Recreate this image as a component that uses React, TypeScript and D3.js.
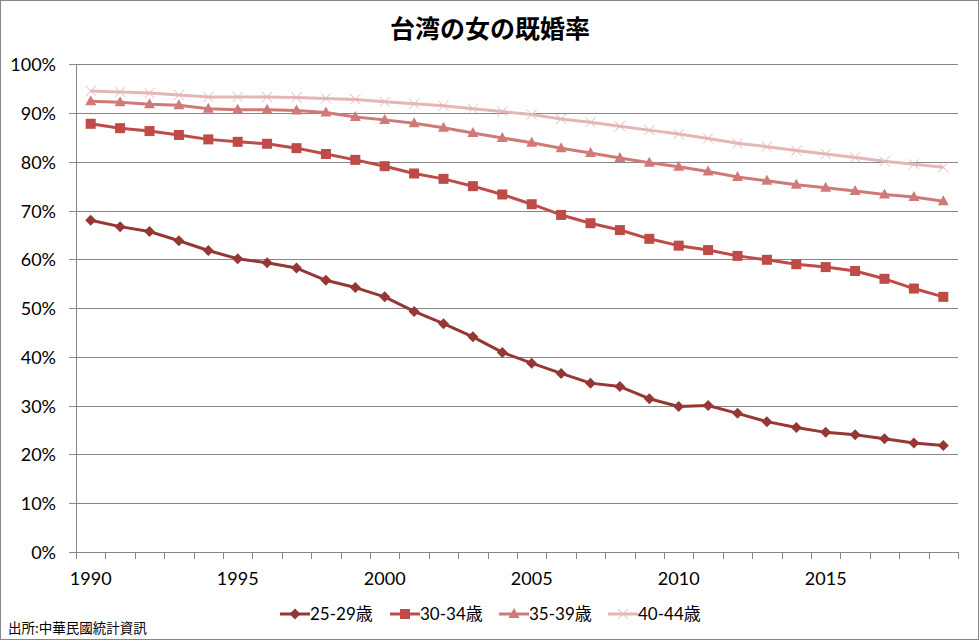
import React, { useEffect, useRef } from "react";
import * as d3 from "d3";

const years: number[] = d3.range(1990, 2020);
const seriesNames = ["25-29歳", "30-34歳", "35-39歳", "40-44歳"];
const s2529 = [68.0, 66.7, 65.7, 63.8, 61.8, 60.1, 59.3, 58.2, 55.7, 54.2, 52.3, 49.3, 46.8, 44.1, 40.9, 38.7, 36.6, 34.6, 33.9, 31.4, 29.8, 30.0, 28.4, 26.7, 25.5, 24.5, 24.0, 23.2, 22.3, 21.8];
const s3034 = [87.8, 86.9, 86.3, 85.5, 84.6, 84.1, 83.7, 82.8, 81.6, 80.4, 79.1, 77.6, 76.5, 75.0, 73.3, 71.3, 69.1, 67.4, 66.0, 64.2, 62.8, 61.9, 60.7, 59.9, 59.0, 58.4, 57.6, 56.0, 54.0, 52.3];
const s3539 = [92.4, 92.2, 91.8, 91.6, 90.9, 90.7, 90.7, 90.5, 90.1, 89.2, 88.6, 87.9, 87.0, 85.9, 84.9, 83.9, 82.8, 81.8, 80.8, 79.8, 79.0, 78.0, 76.9, 76.1, 75.3, 74.7, 74.0, 73.3, 72.8, 71.9];
const s4044 = [94.5, 94.3, 94.1, 93.7, 93.3, 93.3, 93.3, 93.2, 93.0, 92.8, 92.3, 91.9, 91.5, 90.9, 90.3, 89.7, 88.8, 88.1, 87.3, 86.5, 85.7, 84.8, 83.8, 83.1, 82.3, 81.6, 80.9, 80.1, 79.5, 78.9];
const yTicks = [0, 10, 20, 30, 40, 50, 60, 70, 80, 90, 100];
const xLabelYears = [1990, 1995, 2000, 2005, 2010, 2015];
const title = "台湾の女の既婚率";
const source = "出所:中華民國統計資訊";

const colors = ["#953735", "#BE4B48", "#D07A78", "#E4B6B5"];
const markers = ["diamond", "square", "triangle", "x"];

export default function App() {
  const ref = useRef<SVGSVGElement>(null);
  useEffect(() => {
    const W = 979, H = 640;
    const svg = d3.select(ref.current);
    svg.selectAll("*").remove();
    const L = 76, R = 958, T = 64.3, B = 551.8;
    const x = d3.scaleBand<number>().domain(years).range([L, R]);
    const y = d3.scaleLinear().domain([0, 100]).range([B, T]);
    const font = "Lato, 'Noto Sans CJK JP', sans-serif";

    svg.append("rect").attr("x", 0.5).attr("y", 0.5).attr("width", W - 1).attr("height", H - 1)
      .attr("fill", "white").attr("stroke", "#868686");

    svg.append("text").attr("x", 490).attr("y", 38).attr("text-anchor", "middle")
      .attr("font-family", "'Noto Sans CJK JP', sans-serif").attr("font-weight", "bold")
      .attr("font-size", 25).attr("fill", "#000").text(title);

    // gridlines + y ticks
    const gy = svg.append("g");
    yTicks.forEach((t) => {
      const yy = Math.round(y(t)) + 0.5;
      gy.append("line").attr("x1", 69).attr("x2", R).attr("y1", yy).attr("y2", yy)
        .attr("stroke", "#868686").attr("stroke-width", 1);
      gy.append("text").attr("x", 56).attr("y", yy + 6.5).attr("text-anchor", "end")
        .attr("font-family", font).attr("font-size", 18).attr("fill", "#000").text(t + "%");
    });
    // y axis line
    svg.append("line").attr("x1", L + 0.5).attr("x2", L + 0.5).attr("y1", T).attr("y2", B)
      .attr("stroke", "#868686");
    // x ticks
    const bw = x.bandwidth();
    for (let i = 0; i <= years.length; i++) {
      const xx = Math.round(L + i * bw) + 0.5;
      svg.append("line").attr("x1", xx).attr("x2", xx).attr("y1", Math.round(B)).attr("y2", Math.round(B) + 7)
        .attr("stroke", "#868686");
    }
    xLabelYears.forEach((yr) => {
      svg.append("text").attr("x", (x(yr) as number) + bw / 2).attr("y", 585).attr("text-anchor", "middle")
        .attr("font-family", font).attr("font-size", 18).attr("fill", "#000").text(String(yr));
    });

    const data = [s2529, s3034, s3539, s4044];
    const line = d3.line<number>().x((_, i) => (x(years[i]) as number) + bw / 2).y((d) => y(d));

    const drawMarker = (g: any, kind: string, cx: number, cy: number, color: string) => {
      if (kind === "diamond") {
        g.append("path").attr("d", `M${cx},${cy - 5.5}L${cx + 5.5},${cy}L${cx},${cy + 5.5}L${cx - 5.5},${cy}Z`).attr("fill", color);
      } else if (kind === "square") {
        g.append("rect").attr("x", cx - 5).attr("y", cy - 5).attr("width", 10).attr("height", 10).attr("fill", color);
      } else if (kind === "triangle") {
        g.append("path").attr("d", `M${cx},${cy - 6}L${cx + 5.5},${cy + 4}L${cx - 5.5},${cy + 4}Z`).attr("fill", color);
      } else {
        g.append("path").attr("d", `M${cx - 5},${cy - 5}L${cx + 5},${cy + 5}M${cx + 5},${cy - 5}L${cx - 5},${cy + 5}`)
          .attr("stroke", color).attr("stroke-width", 1);
      }
    };

    for (let s = data.length - 1; s >= 0; s--) {
      const g = svg.append("g");
      g.append("path").attr("d", line(data[s]) as string).attr("fill", "none")
        .attr("stroke", colors[s]).attr("stroke-width", 3).attr("stroke-linejoin", "round");
      data[s].forEach((v, i) => drawMarker(g, markers[s], (x(years[i]) as number) + bw / 2, y(v), colors[s]));
    }

    // legend
    const legX = [280, 390, 499, 608];
    legX.forEach((lx, s) => {
      const g = svg.append("g");
      const ly = 614;
      g.append("line").attr("x1", lx).attr("x2", lx + 30).attr("y1", ly).attr("y2", ly)
        .attr("stroke", colors[s]).attr("stroke-width", 3);
      drawMarker(g, markers[s], lx + 15, ly, colors[s]);
      g.append("text").attr("x", lx + 30).attr("y", ly + 6).attr("font-family", font)
        .attr("font-size", 17).attr("fill", "#000").text(seriesNames[s]);
    });

    svg.append("text").attr("x", 8).attr("y", 633).attr("font-family", "'Noto Sans CJK JP', sans-serif")
      .attr("font-size", 13.5).attr("fill", "#000").text(source);
  }, []);
  return (
    <div style={{ position: "absolute", left: 0, top: 0 }}>
      <svg ref={ref} width={979} height={640} style={{ display: "block" }} />
    </div>
  );
}
